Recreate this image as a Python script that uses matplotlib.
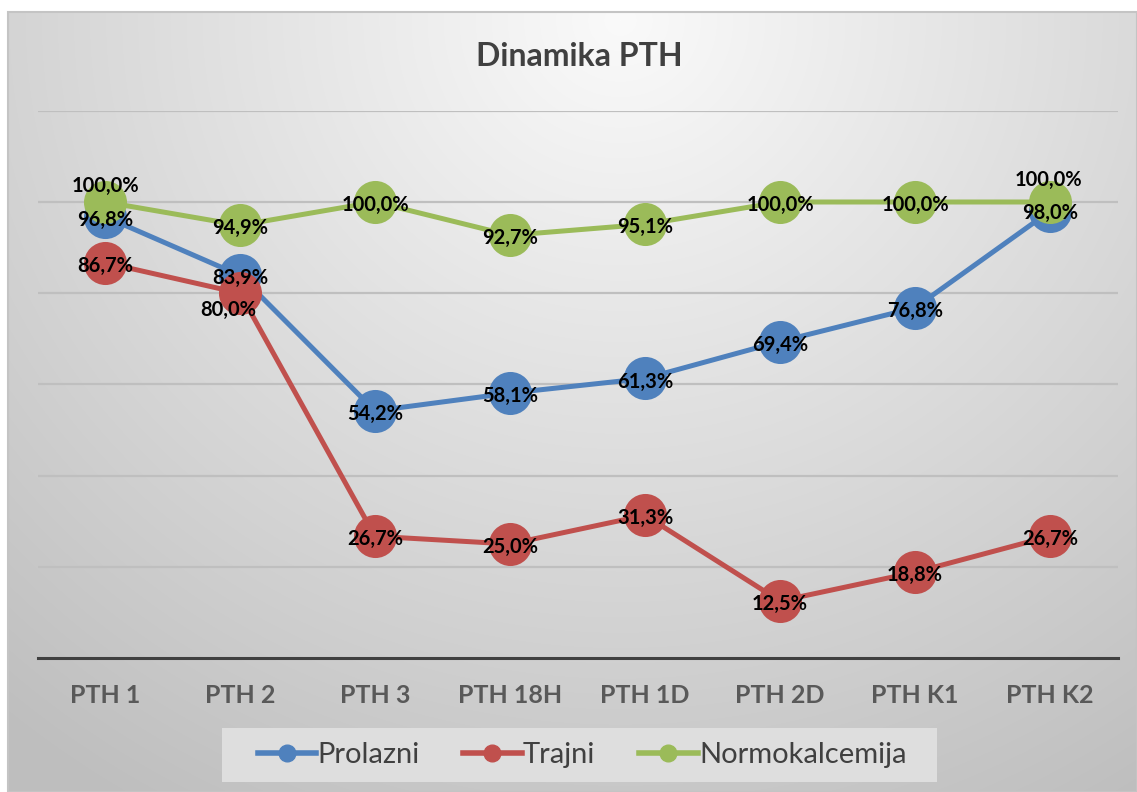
import matplotlib.pyplot as plt
from matplotlib.lines import Line2D
from matplotlib.patches import Rectangle
import numpy as np

plt.rcParams['font.family'] = ['Lato', 'DejaVu Sans']

categories = ['PTH 1', 'PTH 2', 'PTH 3', 'PTH 18H', 'PTH 1D', 'PTH 2D', 'PTH K1', 'PTH K2']
prolazni = [96.8, 83.9, 54.2, 58.1, 61.3, 69.4, 76.8, 98.0]
trajni = [86.7, 80.0, 26.7, 25.0, 31.3, 12.5, 18.8, 26.7]
normokalcemija = [100.0, 94.9, 100.0, 92.7, 95.1, 100.0, 100.0, 100.0]

series = [
    ('Prolazni', prolazni, '#4F81BD'),
    ('Trajni', trajni, '#C0504D'),
    ('Normokalcemija', normokalcemija, '#9BBB59'),
]

# label offsets in pixels (dx, dy), default is slightly below the point
label_offsets = {
    ('Normokalcemija', 0): (0, 16),
    ('Normokalcemija', 7): (-2, 22),
    ('Trajni', 1): (-12, -17),
    ('Prolazni', 7): (0, -2),
}

W, H = 1137, 792
fig = plt.figure(figsize=(W / 100, H / 100), dpi=100)

# background with radial gradient
bg = fig.add_axes([0, 0, 1, 1], zorder=-1)
bg.set_xlim(0, W)
bg.set_ylim(H, 0)
bg.axis('off')
xx, yy = np.meshgrid(np.arange(W), np.arange(H))
d = np.sqrt((xx - 620) ** 2 + ((yy - 20) * 1.05) ** 2)
val = np.clip(250 - 56 * (d / 900), 190, 252) / 255.0
img = np.dstack([val, val, val])
bg.imshow(img, extent=[0, W, H, 0], aspect='auto')
bg.add_patch(Rectangle((0, 0), W, 12, facecolor='white', edgecolor='none'))
bg.add_patch(Rectangle((0, 0), 8, H, facecolor='white', edgecolor='none'))
bg.add_patch(Rectangle((8, 12), W - 8, H - 12, facecolor='none', edgecolor='#c4c4c4', lw=1.5))
# legend box
bg.add_patch(Rectangle((222, 728), 715, 54, facecolor='#dedede', edgecolor='none'))

ax = fig.add_axes([37.5 / W, 134 / H, 1080 / W, 547.2 / H])
ax.set_facecolor('none')
x = np.arange(len(categories))

for z, (name, vals, color) in enumerate(series):
    ax.plot(x, vals, color=color, lw=3.6, marker='o', markersize=31,
            markeredgewidth=0, zorder=3 + z, solid_capstyle='round')

for name, vals, color in series:
    for i, v in enumerate(vals):
        dx, dy = label_offsets.get((name, i), (0, -3))
        ax.annotate(f"{v:.1f}%".replace('.', ','), (x[i], v),
                    xytext=(dx * 0.72, dy * 0.72), textcoords='offset points',
                    ha='center', va='center', fontsize=14.5, fontweight='bold',
                    color='black', zorder=10)

ax.set_xlim(-0.5, len(categories) - 0.5)
ax.set_ylim(0, 120)
ax.set_yticks([20, 40, 60, 80, 100, 120])
ax.yaxis.grid(True, color='#bfbfbf', lw=1.6)
ax.set_axisbelow(True)
ax.tick_params(axis='y', left=False, labelleft=False)
ax.set_xticks(x)
ax.set_xticklabels(categories, fontsize=18, fontweight='bold', color='#595959')
ax.tick_params(axis='x', length=0, pad=19)
for s in ['top', 'right', 'left']:
    ax.spines[s].set_visible(False)
ax.spines['bottom'].set_color('#404040')
ax.spines['bottom'].set_linewidth(2.2)

fig.text(579 / W, 1 - 57 / H, 'Dinamika PTH', ha='center', va='center',
         fontsize=23, fontweight='bold', color='#404040')

handles = [Line2D([0], [0], color=c, lw=4, marker='o', markersize=12) for _, _, c in series]
leg = fig.legend(handles, [s[0] for s in series], loc='center',
                 bbox_to_anchor=(582 / W, 37 / H), ncol=3,
                 frameon=False, handlelength=2.0, prop={'size': 21},
                 handletextpad=0.05, columnspacing=1.5)
for t in leg.get_texts():
    t.set_color('#404040')

plt.savefig('out.png', dpi=100)
